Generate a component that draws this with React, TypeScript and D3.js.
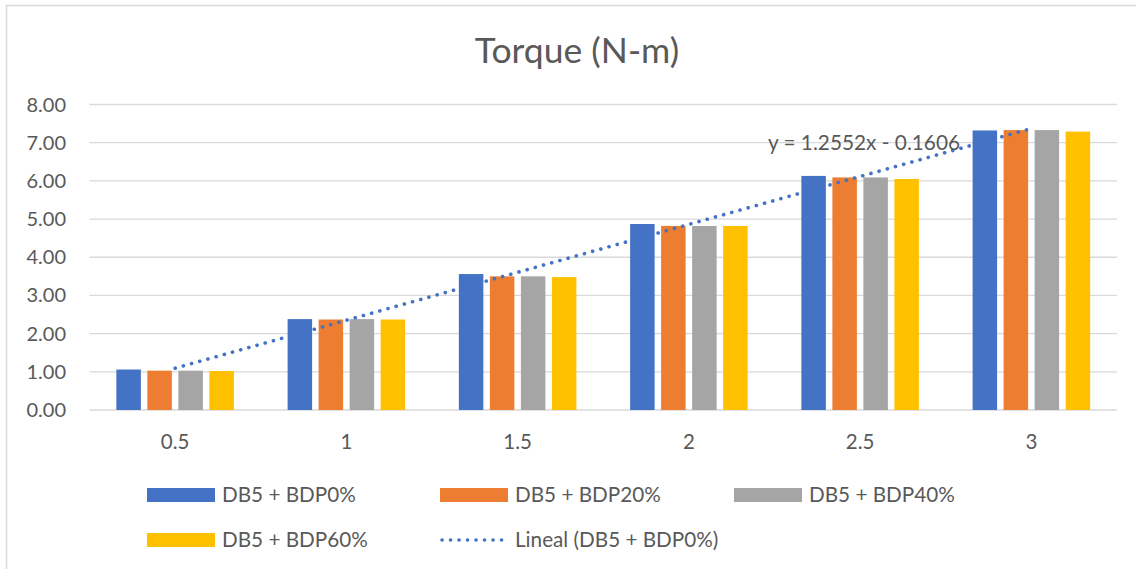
import React from "react";
import * as d3 from "d3";

// Torque (N-m) per speed category for four fuel blends
const categories = ["0.5", "1", "1.5", "2", "2.5", "3"];
const seriesNames = ["DB5 + BDP0%", "DB5 + BDP20%", "DB5 + BDP40%", "DB5 + BDP60%"];
const bdp0 = [1.06, 2.38, 3.56, 4.87, 6.13, 7.32];
const bdp20 = [1.03, 2.37, 3.5, 4.82, 6.09, 7.33];
const bdp40 = [1.03, 2.38, 3.5, 4.82, 6.09, 7.33];
const bdp60 = [1.02, 2.37, 3.48, 4.82, 6.05, 7.29];
const seriesValues = [bdp0, bdp20, bdp40, bdp60];
const yTicks = [0, 1, 2, 3, 4, 5, 6, 7, 8];

// Linear trend of the first series: y = slope * x + intercept (x = category index from 1)
const trendSlope = 1.2552;
const trendIntercept = -0.1606;
const trendLabel = "y = 1.2552x - 0.1606";
const trendName = "Lineal (DB5 + BDP0%)";

const colors = ["#4472C4", "#ED7D31", "#A5A5A5", "#FFC000"];
const textColor = "#595959";
const gridColor = "#D9D9D9";
const font = "Lato, 'Open Sans', sans-serif";

export default function App() {
  const W = 1136;
  const H = 569;
  const plotLeft = 89.5;
  const plotRight = 1117;
  const plotTop = 104.5;
  const plotBottom = 410;

  const x = d3.scaleBand<string>().domain(categories).range([plotLeft, plotRight]);
  const inner = d3
    .scaleBand<number>()
    .domain(d3.range(seriesNames.length))
    .range([0, x.bandwidth()])
    .paddingInner(0.21)
    .paddingOuter(0.866);
  const y = d3.scaleLinear().domain([0, 8]).range([plotBottom, plotTop]);

  const cx = (i: number) => (x(categories[i]) as number) + x.bandwidth() / 2;
  const trendLine = d3
    .line<number>()
    .x((i) => cx(i))
    .y((i) => y(trendSlope * (i + 1) + trendIntercept));
  const trendPts = [0, categories.length - 1];

  const legendItems = [
    { kind: "bar", color: colors[0], label: seriesNames[0], x: 147, y: 495 },
    { kind: "bar", color: colors[1], label: seriesNames[1], x: 440, y: 495 },
    { kind: "bar", color: colors[2], label: seriesNames[2], x: 734, y: 495 },
    { kind: "bar", color: colors[3], label: seriesNames[3], x: 147, y: 540 },
    { kind: "line", color: colors[0], label: trendName, x: 440, y: 540 },
  ];

  return (
    <svg
      width={W}
      height={H}
      style={{ position: "absolute", left: 0, top: 0, background: "#fff" }}
      fontFamily={font}
    >
      <rect x={6.5} y={5.5} width={W + 20} height={H + 20} fill="#fff" stroke={gridColor} strokeWidth={1.5} />
      <text x={577} y={63} textAnchor="middle" fontSize={35.5} fill={textColor}>
        Torque (N-m)
      </text>

      {yTicks.map((t) => (
        <g key={t}>
          <line x1={plotLeft} x2={plotRight} y1={y(t)} y2={y(t)} stroke={gridColor} strokeWidth={1.3} />
          <text x={66} y={y(t)} dy="0.35em" textAnchor="end" fontSize={20} fill={textColor}>
            {t.toFixed(2)}
          </text>
        </g>
      ))}

      {seriesValues.map((vals, s) =>
        vals.map((v, i) => (
          <rect
            key={`${s}-${i}`}
            x={(x(categories[i]) as number) + (inner(s) as number)}
            y={y(v)}
            width={inner.bandwidth()}
            height={y(0) - y(v)}
            fill={colors[s]}
          />
        ))
      )}

      <path
        d={trendLine(trendPts) || ""}
        fill="none"
        stroke={colors[0]}
        strokeWidth={3.6}
        strokeLinecap="round"
        strokeDasharray="0.1 8.4"
      />
      <text x={864} y={150} textAnchor="middle" fontSize={20.8} fill={textColor}>
        {trendLabel}
      </text>

      {categories.map((c, i) => (
        <text key={c} x={cx(i)} y={449} textAnchor="middle" fontSize={20.5} fill={textColor}>
          {c}
        </text>
      ))}

      {legendItems.map((it) => (
        <g key={it.label}>
          {it.kind === "bar" ? (
            <rect x={it.x} y={it.y - 7} width={68} height={14} fill={it.color} />
          ) : (
            <line
              x1={it.x + 2}
              x2={it.x + 66}
              y1={it.y}
              y2={it.y}
              stroke={it.color}
              strokeWidth={3.6}
              strokeLinecap="round"
              strokeDasharray="0.1 8.4"
            />
          )}
          <text x={it.x + 75} y={it.y} dy="0.35em" fontSize={20.7} fill={textColor}>
            {it.label}
          </text>
        </g>
      ))}
    </svg>
  );
}
